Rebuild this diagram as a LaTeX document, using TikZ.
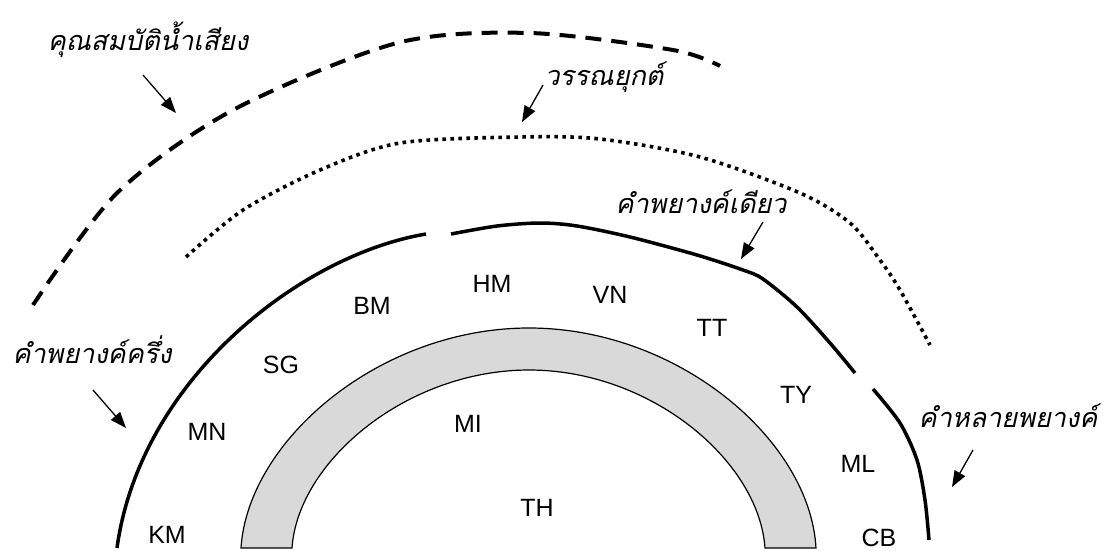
\documentclass[tikz,border=0pt]{standalone}
\usepackage{fontspec}
\setmainfont{Liberation Sans}
\newfontfamily\thaifont[Script=Thai]{Loma}
\usetikzlibrary{arrows.meta}
\definecolor{bandgray}{HTML}{D9D9D9}
\begin{document}
\begin{tikzpicture}[x=1pt,y=-1pt,
  code/.style={font=\fontsize{25}{30}\selectfont, anchor=base, inner sep=0pt},
  thlabel/.style={font=\thaifont\itshape\fontsize{27}{32}\selectfont, anchor=base, inner sep=0pt},
  pointer/.style={line width=1.3pt, -{Triangle[length=16pt,width=12pt]}},
  layerline/.style={line width=3.5pt},
  dotline/.style={line width=3.6pt, dash pattern=on 3.6pt off 4.4pt},
  dashline/.style={line width=4pt, dash pattern=on 16pt off 10pt},
  band/.style={fill=bandgray, draw=black, line width=1.2pt}]
\useasboundingbox (0,0) rectangle (1104,550);

% gray band
\draw[band] (241,548) .. controls (248,440) and (380,328) .. (529,328)
  .. controls (678,328) and (810,440) .. (816,548) -- (765,548)
  .. controls (759,461) and (651,370) .. (529,370)
  .. controls (407,370) and (298,461) .. (292,548) -- cycle;

% solid layer (three segments)
\draw[layerline] (117,548) .. controls (140,380) and (300,255) .. (426,234);
\draw[layerline] plot[smooth] coordinates {(451,234) (497,226) (540,223) (577,226) (630,237) (697,255) (743,270) (763,279) (797,307) (830,343) (855,373)};
\draw[layerline] plot[smooth] coordinates {(873,389) (900,423) (917,460) (925,500) (929,540)};

% dotted layer
\draw[dotline] plot[smooth] coordinates {(186,257) (243,210) (320,170) (400,143) (520,137) (600,139) (700,157) (800,193) (850,223) (880,260) (900,290) (930,345)};

% dashed layer
\draw[dashline] plot[smooth] coordinates {(33,305) (117,193) (233,110) (397,43) (530,33) (673,50) (720,66)};

% Thai labels
\node[thlabel] (t1) at (148,50) {คุณสมบัติน้ำเสียง};
\node[thlabel] (t2) at (604,85) {วรรณยุกต์};
\node[thlabel] (t3) at (701,213) {คำพยางค์เดียว};
\node[thlabel] (t4) at (92,363) {คำพยางค์ครึ่ง};
\node[thlabel] (t5) at (1008,427) {คำหลายพยางค์};

% pointers
\coordinate (p1s) at (143,75);  \coordinate (p1e) at (176,113);
\coordinate (p2s) at (543,85);  \coordinate (p2e) at (522,122);
\coordinate (p3s) at (763,222); \coordinate (p3e) at (741,259);
\coordinate (p4s) at (93,390);  \coordinate (p4e) at (126,428);
\coordinate (p5s) at (973,450); \coordinate (p5e) at (952,487);
\draw[pointer] (p1s) -- (p1e);
\draw[pointer] (p2s) -- (p2e);
\draw[pointer] (p3s) -- (p3e);
\draw[pointer] (p4s) -- (p4e);
\draw[pointer] (p5s) -- (p5e);

% codes
\node[code] (km) at (167,543) {KM};
\node[code] (mn) at (207,440) {MN};
\node[code] (sg) at (281,373) {SG};
\node[code] (bm) at (372,314) {BM};
\node[code] (hm) at (492,292) {HM};
\node[code] (vn) at (610,303) {VN};
\node[code] (tt) at (712,336) {TT};
\node[code] (ty) at (796,403) {TY};
\node[code] (ml) at (858,472) {ML};
\node[code] (mi) at (468,432) {MI};
\node[code] (th) at (537,516) {TH};
\node[code] (cb) at (879,546) {CB};
\end{tikzpicture}
\end{document}
